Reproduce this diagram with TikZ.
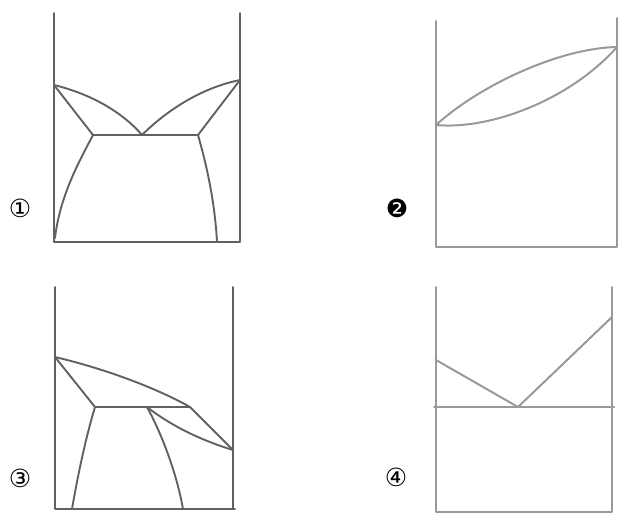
\documentclass[tikz,border=0pt]{standalone}
\usepackage{fontspec}
\newfontfamily\symfont{DejaVu Sans}
\begin{document}
\begin{tikzpicture}[x=1pt,y=-1pt,
  darkline/.style={draw=black!62,line width=1.9pt,line join=round,line cap=round},
  lightline/.style={draw=black!40,line width=2pt,line join=round,line cap=round},
  numlabel/.style={font=\symfont\fontsize{25}{25}\selectfont,inner sep=0pt}]
\useasboundingbox (0,0) rectangle (620,515);
% ---------- Panel 1 ----------
\coordinate (p1tl) at (54,13);
\coordinate (p1bl) at (54,242);
\coordinate (p1br) at (240,242);
\coordinate (p1tr) at (240,13);
\coordinate (p1L) at (54,85);
\coordinate (p1R) at (240,80);
\coordinate (p1E) at (142,135);
\coordinate (p1A) at (93,135);
\coordinate (p1B) at (198,135);
\coordinate (p1sa) at (55,238);
\coordinate (p1sb) at (217,242);
\draw[darkline] (p1tl) -- (p1bl) -- (p1br) -- (p1tr);
\draw[darkline] (p1L) .. controls (95,95) and (125,115) .. (p1E);
\draw[darkline] (p1E) .. controls (165,112) and (200,88) .. (p1R);
\draw[darkline] (p1L) -- (p1A) -- (p1B) -- (p1R);
\draw[darkline] (p1A) .. controls (80,160) and (60,195) .. (p1sa);
\draw[darkline] (p1B) .. controls (208,170) and (215,205) .. (p1sb);
\node[numlabel] (n1) at (20,208) {①};
% ---------- Panel 2 ----------
\coordinate (p2tl) at (436,21);
\coordinate (p2bl) at (436,247);
\coordinate (p2br) at (617,247);
\coordinate (p2tr) at (617,18);
\coordinate (p2L) at (436,125);
\coordinate (p2R) at (617,47);
\draw[lightline] (p2tl) -- (p2bl) -- (p2br) -- (p2tr);
\draw[lightline] (p2L) .. controls (480,85) and (560,48) .. (p2R);
\draw[lightline] (p2L) .. controls (490,130) and (570,100) .. (p2R);
\node[numlabel] (n2) at (397,208) {❷};
% ---------- Panel 3 ----------
\coordinate (p3tl) at (55,287);
\coordinate (p3bl) at (55,509);
\coordinate (p3br) at (235,509);
\coordinate (p3tr) at (233,287);
\coordinate (p3rb) at (233,450);
\coordinate (p3L) at (55,357);
\coordinate (p3A) at (95,407);
\coordinate (p3B) at (190,407);
\coordinate (p3P) at (147,407);
\coordinate (p3sa) at (72,509);
\coordinate (p3sb) at (183,509);
\draw[darkline] (p3tl) -- (p3bl) -- (p3br);
\draw[darkline] (p3tr) -- (p3rb);
\draw[darkline] (p3rb) -- (233,509);
\draw[darkline] (p3L) .. controls (110,370) and (160,390) .. (p3B);
\draw[darkline] (p3L) -- (p3A) -- (p3B) -- (p3rb);
\draw[darkline] (p3P) .. controls (170,425) and (200,440) .. (p3rb);
\draw[darkline] (p3A) .. controls (85,440) and (77,480) .. (p3sa);
\draw[darkline] (p3P) .. controls (165,440) and (178,480) .. (p3sb);
\node[numlabel] (n3) at (20,478) {③};
% ---------- Panel 4 ----------
\coordinate (p4tl) at (436,287);
\coordinate (p4bl) at (436,512);
\coordinate (p4br) at (612,512);
\coordinate (p4tr) at (612,287);
\coordinate (p4L) at (436,360);
\coordinate (p4E) at (518,407);
\coordinate (p4R) at (612,317);
\coordinate (p4hl) at (434,407);
\coordinate (p4hr) at (614,407);
\draw[lightline] (p4tl) -- (p4bl) -- (p4br) -- (p4tr);
\draw[lightline] (p4hl) -- (p4hr);
\draw[lightline] (p4L) -- (p4E) -- (p4R);
\node[numlabel] (n4) at (396,477) {④};
\end{tikzpicture}
\end{document}
